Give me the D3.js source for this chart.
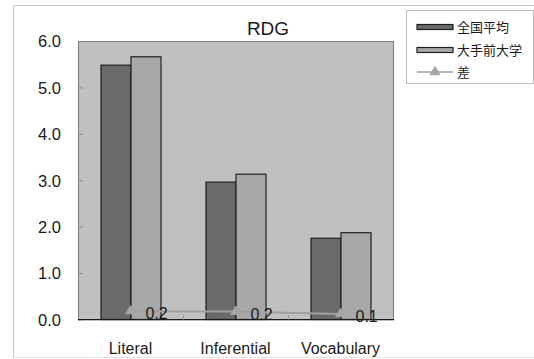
<!DOCTYPE html>
<html>
<head>
<meta charset="utf-8">
<script src="https://cdn.jsdelivr.net/npm/d3@7"></script>
<style>
  html, body { margin: 0; padding: 0; background: #fff; }
  svg { display: block; }
  text { font-family: "Liberation Sans", Arial, sans-serif; fill: #1a1a1a; }
  .jp { font-family: "Noto Sans CJK JP", "Noto Sans", sans-serif; }
</style>
</head>
<body>
<svg id="chart" width="534" height="359"></svg>
<script>
// Reading scores by category (RDG section)
const categories = ["Literal", "Inferential", "Vocabulary"];
const nationalAvg = [5.48, 2.96, 1.75];   // 全国平均
const otemaeAvg   = [5.66, 3.13, 1.87];   // 大手前大学
const difference  = [0.18, 0.17, 0.12];   // 差
const yTicks      = [0, 1, 2, 3, 4, 5, 6];
const seriesNames = ["全国平均", "大手前大学", "差"];
const chartTitle  = "RDG";

const svg = d3.select("#chart");

const plot = { left: 78, top: 41, right: 393, bottom: 319.5 };

// Outer chart frame
svg.append("line").attr("x1", 13.5).attr("x2", 534).attr("y1", 5.5).attr("y2", 5.5)
  .attr("stroke", "#c4c4c4");
svg.append("line").attr("x1", 13.5).attr("x2", 13.5).attr("y1", 5.5).attr("y2", 357.5)
  .attr("stroke", "#c4c4c4");
svg.append("line").attr("x1", 13.5).attr("x2", 534).attr("y1", 357.5).attr("y2", 357.5)
  .attr("stroke", "#e4e4e4");

const y = d3.scaleLinear().domain([0, 6]).range([plot.bottom, plot.top]);
const x = d3.scaleBand().domain(categories).range([plot.left, plot.right])
  .paddingInner(3 / 7).paddingOuter(1.5 / 7);
const xSub = d3.scaleBand().domain(["national", "otemae"]).range([0, x.bandwidth()]);

// Plot area background
svg.append("rect")
  .attr("x", plot.left + 0.5).attr("y", plot.top + 0.5)
  .attr("width", plot.right - plot.left).attr("height", plot.bottom - plot.top)
  .attr("fill", "#c0c0c0").attr("stroke", "#7c7c7c").attr("stroke-width", 1);

// Y axis: ticks point into the plot, labels on the left
const yAxis = d3.axisRight(y).tickValues(yTicks).tickSize(4).tickFormat("");
const yg = svg.append("g").attr("transform", `translate(${plot.left + 0.5},0)`).call(yAxis);
yg.select(".domain").remove();
yg.selectAll(".tick line").attr("stroke", "#8a8a8a");

svg.append("g").selectAll("text").data(yTicks).join("text")
  .attr("x", 61).attr("y", d => y(d)).attr("dy", "0.38em")
  .attr("text-anchor", "end").attr("font-size", 16.5)
  .text(d => d3.format(".1f")(d));

// Bars
const groups = svg.append("g").selectAll("g").data(categories).join("g")
  .attr("transform", d => `translate(${x(d)},0)`);

groups.append("rect")
  .attr("x", xSub("national") + 0.5)
  .attr("y", (d, i) => y(nationalAvg[i]))
  .attr("width", xSub.bandwidth())
  .attr("height", (d, i) => y(0) - y(nationalAvg[i]))
  .attr("fill", "#6a6a6a").attr("stroke", "#202020").attr("stroke-width", 1.2);

groups.append("rect")
  .attr("x", xSub("otemae") + 0.5)
  .attr("y", (d, i) => y(otemaeAvg[i]))
  .attr("width", xSub.bandwidth())
  .attr("height", (d, i) => y(0) - y(otemaeAvg[i]))
  .attr("fill", "#a8a8a8").attr("stroke", "#202020").attr("stroke-width", 1.2);

// X axis: baseline, inward category dividers, labels
const xAxis = d3.axisTop(x).tickSize(0).tickFormat("");
svg.append("line").attr("x1", plot.left).attr("x2", plot.right + 1)
  .attr("y1", plot.bottom).attr("y2", plot.bottom)
  .attr("stroke", "#1a1a1a").attr("stroke-width", 1.2);
const step = x.step();
svg.append("g").selectAll("line").data(categories.slice(1)).join("line")
  .attr("x1", d => Math.round(x(d) - x.paddingInner() * step / 2) + 0.5)
  .attr("x2", d => Math.round(x(d) - x.paddingInner() * step / 2) + 0.5)
  .attr("y1", plot.bottom).attr("y2", plot.bottom - 5)
  .attr("stroke", "#9a9a9a");

svg.append("g").selectAll("text").data(categories).join("text")
  .attr("x", d => x(d) + x.bandwidth() / 2)
  .attr("y", 354)
  .attr("text-anchor", "middle").attr("font-size", 16)
  .text(d => d);

// Difference line with triangle markers
const cx = (d, i) => x(categories[i]) + x.bandwidth() / 2;
const line = d3.line().x((d, i) => cx(d, i)).y(d => y(d));
svg.append("path").datum(difference)
  .attr("d", line).attr("fill", "none")
  .attr("stroke", "#a0a0a0").attr("stroke-width", 2);

const tri = d3.symbol().type(d3.symbolTriangle).size(40);
svg.append("g").selectAll("path").data(difference).join("path")
  .attr("d", tri)
  .attr("transform", (d, i) => `translate(${cx(d, i)},${y(d)})`)
  .attr("fill", "#a4a4a4").attr("stroke", "#a4a4a4");

svg.append("g").selectAll("text").data(difference).join("text")
  .attr("x", (d, i) => cx(d, i) + 15)
  .attr("y", d => y(d))
  .attr("dy", "0.5em")
  .attr("font-size", 16)
  .text(d => d3.format(".1f")(d));

// Title
svg.append("text").attr("x", 268).attr("y", 35)
  .attr("text-anchor", "middle").attr("font-size", 19)
  .text(chartTitle);

// Legend
const lg = svg.append("g");
lg.append("rect").attr("x", 406.5).attr("y", 10.5).attr("width", 127).attr("height", 73)
  .attr("fill", "#fff").attr("stroke", "#bdbdbd");
const rowY = [27, 50, 72];
lg.append("rect").attr("x", 417).attr("y", rowY[0] - 2.5).attr("width", 36).attr("height", 5)
  .attr("fill", "#6a6a6a").attr("stroke", "#202020").attr("stroke-width", 1.2);
lg.append("rect").attr("x", 417).attr("y", rowY[1] - 2.5).attr("width", 36).attr("height", 5)
  .attr("fill", "#a8a8a8").attr("stroke", "#202020").attr("stroke-width", 1.2);
lg.append("line").attr("x1", 417).attr("x2", 453).attr("y1", rowY[2]).attr("y2", rowY[2])
  .attr("stroke", "#a0a0a0").attr("stroke-width", 1.5);
lg.append("path").attr("d", tri).attr("transform", `translate(435,${rowY[2]})`)
  .attr("fill", "#a4a4a4").attr("stroke", "#a4a4a4");
lg.selectAll("text.lbl").data(seriesNames).join("text")
  .attr("class", "jp lbl")
  .attr("x", 457).attr("y", (d, i) => rowY[i]).attr("dy", "0.36em")
  .attr("font-size", 13)
  .text(d => d);
</script>
</body>
</html>
